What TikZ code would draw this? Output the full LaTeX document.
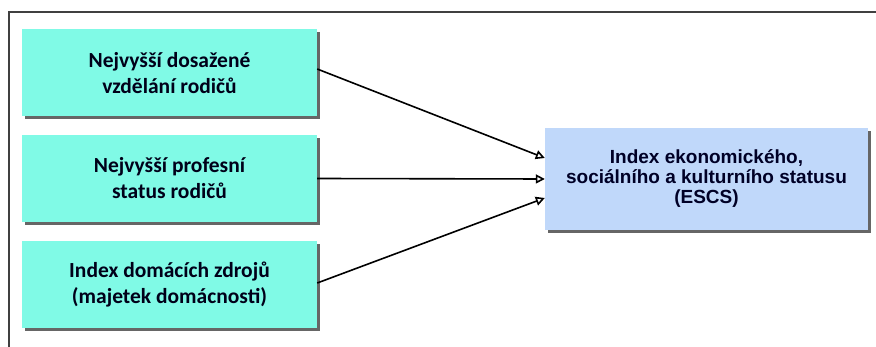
\documentclass[tikz,border=0pt]{standalone}
\usepackage{fontspec}
\setmainfont{Carlito}
\newfontfamily\arialfont{Liberation Sans}
\usetikzlibrary{arrows.meta,shadows}
\definecolor{aqua}{RGB}{128,250,230}
\definecolor{bleuclair}{RGB}{192,216,250}
\tikzset{
  facteur/.style={fill=aqua, minimum width=295pt, minimum height=87pt, align=center,
    font=\fontsize{21.5}{26}\selectfont\bfseries, text=black!90!blue,
    drop shadow={shadow xshift=3pt, shadow yshift=-3pt, fill=black!60, opacity=1}},
  indice/.style={fill=bleuclair, minimum width=323pt, minimum height=102pt, align=center,
    font=\arialfont\fontsize{19}{20}\selectfont\bfseries, text=black!85!blue,
    drop shadow={shadow xshift=3pt, shadow yshift=-3pt, fill=black!60, opacity=1}},
  fleche/.style={line width=1.6pt, -{Triangle[open, length=9pt, width=9pt]}}
}
\begin{document}
\begin{tikzpicture}[x=1pt, y=-1pt]
  \useasboundingbox (0,0) rectangle (876,347);
  %cadre
  \draw[line width=1.5pt, black!75] (9,347) -- (9,12) -- (876,12);
  %facteurs
  \node[facteur] (vzdelani) at (169.5,73) {Nejvyšší dosažené\\vzdělání rodičů};
  \node[facteur] (profese) at (169.5,178.5) {Nejvyšší profesní\\status rodičů};
  \node[facteur] (zdroje) at (169.5,285) {Index domácích zdrojů\\(majetek domácnosti)};
  %indice
  \node[indice] (escs) at (706.5,179) {Index ekonomického,\\sociálního a kulturního statusu\\(ESCS)};
  %fleches
  \draw[fleche] ([yshift=4pt]vzdelani.east) -- ([yshift=21pt]escs.west);
  \draw[fleche] (profese.east) -- (escs.west);
  \draw[fleche] ([yshift=2pt]zdroje.east) -- ([yshift=-19pt]escs.west);
\end{tikzpicture}
\end{document}
